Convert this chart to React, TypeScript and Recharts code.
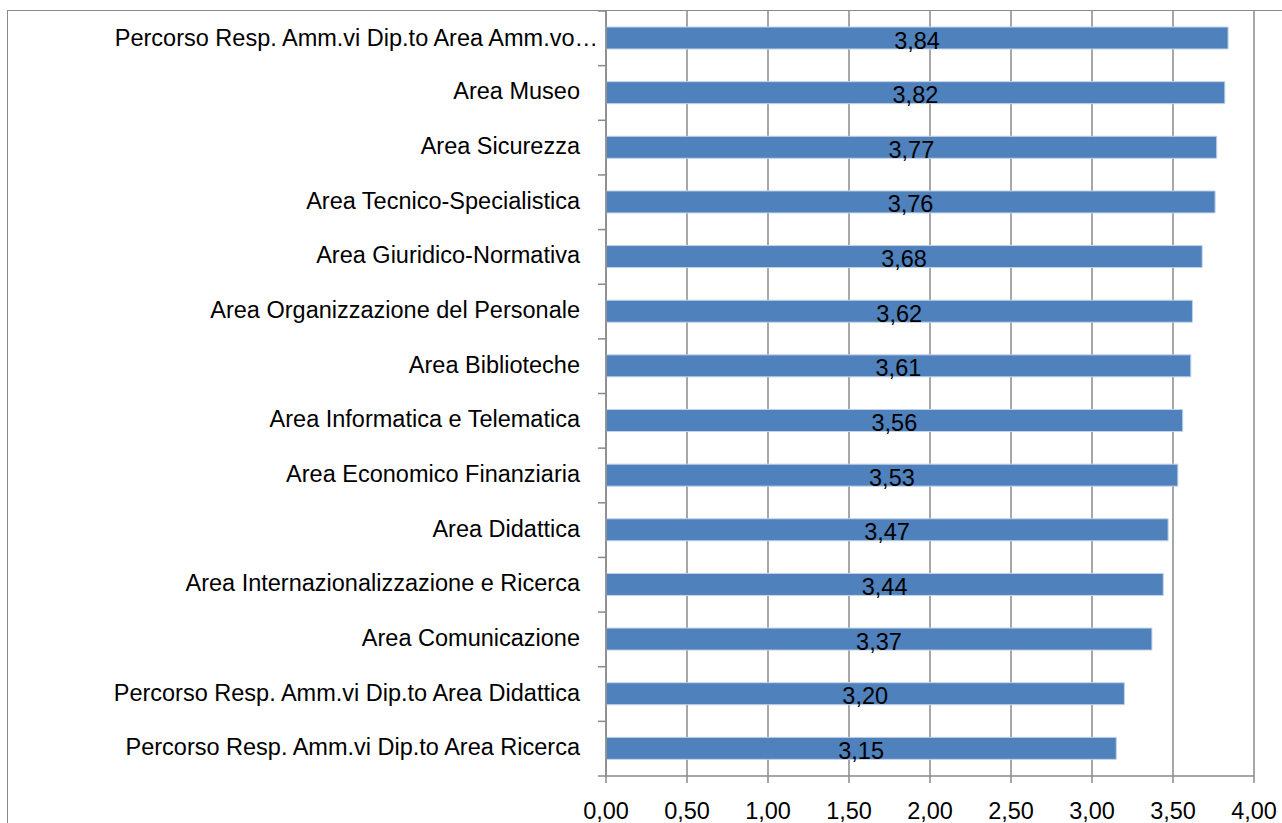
import React from 'react';
import { BarChart, Bar, XAxis, YAxis, CartesianGrid, LabelList } from 'recharts';

const categories = [
  'Percorso Resp. Amm.vi Dip.to Area Amm.vo…',
  'Area Museo',
  'Area Sicurezza',
  'Area Tecnico-Specialistica',
  'Area Giuridico-Normativa',
  'Area Organizzazione del Personale',
  'Area Biblioteche',
  'Area Informatica e Telematica',
  'Area Economico Finanziaria',
  'Area Didattica',
  'Area Internazionalizzazione e Ricerca',
  'Area Comunicazione',
  'Percorso Resp. Amm.vi Dip.to Area Didattica',
  'Percorso Resp. Amm.vi Dip.to Area Ricerca',
];

const values = [3.84, 3.82, 3.77, 3.76, 3.68, 3.62, 3.61, 3.56, 3.53, 3.47, 3.44, 3.37, 3.2, 3.15];

const xTicks = [0, 0.5, 1, 1.5, 2, 2.5, 3, 3.5, 4];

const data = categories.map((name, i) => ({ name, value: values[i] }));

const W = 1282;
const H = 823;
const PLOT_TOP = 11;
const PLOT_BOTTOM = 776;
const AXIS_X = 606;
const BAND = (PLOT_BOTTOM - PLOT_TOP) / categories.length;
const GRID = '#8a8a8a';
const FONT = '"Liberation Sans", Arial, sans-serif';
const FS = 23.5;

const fmt = (v: number) => v.toFixed(2).replace('.', ',');

const YTick = (props: any) => {
  const { y, payload, index } = props;
  const truncated = index === 0;
  return (
    <g>
      <line x1={AXIS_X - 8} x2={AXIS_X} y1={y - BAND / 2} y2={y - BAND / 2} stroke={GRID} strokeWidth={1.5} />
      {index === categories.length - 1 && (
        <line x1={AXIS_X - 8} x2={AXIS_X} y1={y + BAND / 2} y2={y + BAND / 2} stroke={GRID} strokeWidth={1.5} />
      )}
      <text
        x={truncated ? AXIS_X - 8 : AXIS_X - 26}
        y={y + (truncated ? 7.5 : 6.5)}
        textAnchor="end"
        fontFamily={FONT}
        fontSize={FS}
        fill="#000"
      >
        {payload.value}
      </text>
    </g>
  );
};

const XTick = (props: any) => {
  const { x, payload } = props;
  return (
    <text x={x} y={819} textAnchor="middle" fontFamily={FONT} fontSize={FS} fill="#000">
      {fmt(payload.value)}
    </text>
  );
};

const ValueLabel = (props: any) => {
  const { x, y, width, height, value } = props;
  return (
    <text
      x={x + width / 2}
      y={y + height / 2 + 10.5}
      textAnchor="middle"
      fontFamily={FONT}
      fontSize={FS}
      fill="#000"
    >
      {fmt(value)}
    </text>
  );
};

export default function App() {
  return (
    <div style={{ position: 'absolute', left: 0, top: 0, width: W, height: H, overflow: 'hidden', background: '#fff' }}>
      <div
        style={{
          position: 'absolute',
          left: 7,
          top: 10,
          width: 1400,
          height: 1000,
          border: `1px solid ${GRID}`,
        }}
      />
      <div style={{ position: 'absolute', left: 0, top: 0 }}>
        <BarChart
          width={W}
          height={H}
          data={data}
          layout="vertical"
          margin={{ top: PLOT_TOP, right: W - 1254, bottom: H - PLOT_BOTTOM - 40, left: 0 }}
          barCategoryGap="60%"
        >
          <CartesianGrid horizontal={false} stroke={GRID} strokeWidth={1.5} />
          <XAxis
            type="number"
            domain={[0, 4]}
            ticks={xTicks}
            interval={0}
            height={40}
            tickSize={7}
            tickMargin={0}
            axisLine={{ stroke: GRID, strokeWidth: 1.5 }}
            tickLine={{ stroke: GRID, strokeWidth: 1.5 }}
            tick={<XTick />}
          />
          <YAxis
            type="category"
            dataKey="name"
            width={AXIS_X}
            interval={0}
            axisLine={{ stroke: GRID, strokeWidth: 1.5 }}
            tickLine={false}
            tick={<YTick />}
          />
          <Bar dataKey="value" fill="#4F81BD" stroke="#c3d3e8" strokeWidth={1} barSize={22} isAnimationActive={false}>
            <LabelList dataKey="value" content={<ValueLabel />} />
          </Bar>
        </BarChart>
      </div>
    </div>
  );
}
